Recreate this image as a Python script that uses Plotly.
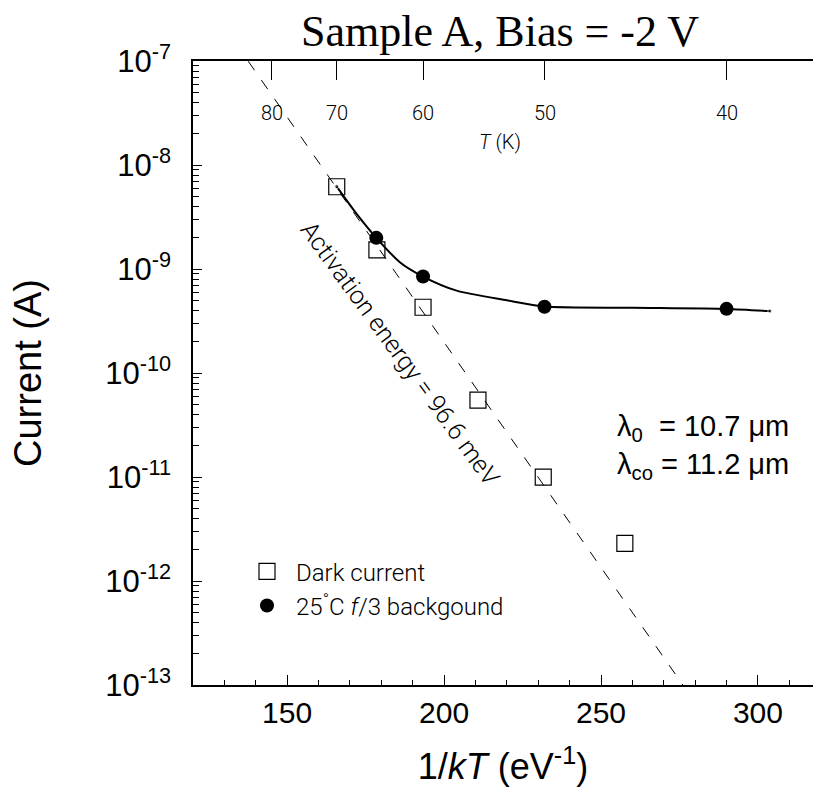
import plotly.graph_objects as go

# ---------------- data ----------------
# 1/kT in eV^-1, current in A
dark_x = [165.8, 178.6, 193.3, 210.8, 231.6, 257.6]
dark_y = [6.2e-9, 1.53e-9, 4.3e-10, 5.5e-11, 1.0e-11, 2.3e-12]

bg_x = [178.4, 193.3, 232.0, 290.0]
bg_y = [2.0e-9, 8.5e-10, 4.35e-10, 4.15e-10]

curve_x = [165.8, 172.2, 178.4, 186.0, 193.3, 204.0, 220.0, 232.0, 260.0, 290.0, 303.8]
curve_y = [6.22e-9, 3.38e-9, 2.0e-9, 1.16e-9, 8.49e-10, 6.21e-10, 5.01e-10,
           4.36e-10, 4.25e-10, 4.14e-10, 3.95e-10]

fit_x = [137.6, 276.1]
fit_y = [1e-7, 1e-13]

top_T = [80, 70, 60, 50, 40]          # K
k_B = 8.617e-5                        # eV/K
top_pos = [1.0 / (k_B * t) for t in top_T]
top_text = [str(t) for t in top_T]

y_exps = [-13, -12, -11, -10, -9, -8, -7]
y_tickvals = [10.0 ** e for e in y_exps]
y_ticktext = ["10<sup>%d</sup>" % e for e in y_exps]

x_range = [120, 317.55]
y_range_log = [-13.0001, -6.998]

SANS = "Liberation Sans, Arial, sans-serif"
THIN = "Roboto, sans-serif"

fig = go.Figure()

fig.add_trace(go.Scatter(
    x=fit_x, y=fit_y, mode="lines", showlegend=False,
    line=dict(color="black", width=1, dash="11px,12px"), hoverinfo="skip"))

end_dots = [4] + [0] * (len(curve_x) - 2) + [4]
fig.add_trace(go.Scatter(
    x=curve_x, y=curve_y, mode="lines+markers", showlegend=False,
    line=dict(color="black", width=2, shape="spline", smoothing=0.7),
    marker=dict(size=end_dots, color="black"), hoverinfo="skip"))

fig.add_trace(go.Scatter(
    x=dark_x, y=dark_y, mode="markers", name="Dark current",
    marker=dict(symbol="square-open", size=16, color="black", line=dict(width=1.2, color="black"))))

fig.add_trace(go.Scatter(
    x=bg_x, y=bg_y, mode="markers", name="25<sup>°</sup>C <i>f</i>/3 backgound",
    marker=dict(symbol="circle", size=14, color="black")))

# invisible trace on top axis so it is drawn
fig.add_trace(go.Scatter(x=[top_pos[0]], y=[1e-10], xaxis="x2", mode="markers",
                         marker=dict(opacity=0), showlegend=False, hoverinfo="skip"))

fig.update_layout(
    width=813, height=805,
    margin=dict(l=193, r=0, t=61, b=120),
    paper_bgcolor="white", plot_bgcolor="white",
    title=dict(text="Sample A, Bias = -2 V", xref="container", yref="container",
               x=500 / 813, y=1 - 31 / 805, xanchor="center", yanchor="middle",
               font=dict(family="Liberation Serif, Times New Roman, serif", size=44, color="black")),
    xaxis=dict(range=x_range, showgrid=False, zeroline=False, showline=True,
               linecolor="black", linewidth=1.5, ticks="inside", ticklen=10, tickwidth=1,
               tickcolor="black", dtick=50, tick0=0,
               tickfont=dict(family=SANS, size=30, color="black"),
               minor=dict(dtick=10, tick0=0, ticks="inside", ticklen=5, tickwidth=1, tickcolor="black"),
               title=dict(text="1/<i>kT</i> (eV<sup>-1</sup>)", font=dict(family=SANS, size=36, color="black"),
                          standoff=26)),
    xaxis2=dict(range=x_range, overlaying="x", side="top", showgrid=False, zeroline=False,
                showline=True, linecolor="black", linewidth=1.5, ticks="inside", ticklen=19,
                tickwidth=1, tickcolor="black", tickvals=top_pos, ticktext=top_text,
                showticklabels=False),
    yaxis=dict(type="log", range=y_range_log, showgrid=False, zeroline=False, showline=True,
               linecolor="black", linewidth=1.5, ticks="inside", ticklen=9, tickwidth=1,
               tickcolor="black", tickvals=y_tickvals, ticktext=y_ticktext, ticklabelstandoff=14,
               tickfont=dict(family=SANS, size=31, color="black"),
               minor=dict(ticks="inside", ticklen=6, tickwidth=1, tickcolor="black", dtick="D1"),
               title=dict(text="Current (A)", font=dict(family=SANS, size=38, color="black"),
                          standoff=52)),
    legend=dict(x=(238 - 193) / 620, y=(685 - 549) / 625, xanchor="left", yanchor="top",
                bgcolor="rgba(0,0,0,0)", itemwidth=48,
                font=dict(family=THIN, size=24, color="black", weight=300)),
    showlegend=True,
)

# temperature labels of the top axis (placed at the top-axis tick positions)
for pos, lab in zip(top_pos, top_text):
    fig.add_annotation(x=pos, y=(685 - 98) / 625, xref="x2", yref="paper",
                       text=lab, showarrow=False,
                       font=dict(family=THIN, size=20, color="black", weight=300))

fig.add_annotation(x=217.8, y=(685 - 127) / 625, xref="x", yref="paper",
                   text="<i>T</i> (K)", showarrow=False,
                   font=dict(family=THIN, size=20, color="black", weight=300))

fig.add_annotation(x=186.0, y=-9.81, xref="x", yref="y", textangle=54,
                   text="Activation energy = 96.6 meV", showarrow=False,
                   font=dict(family=THIN, size=25, color="black", weight=300))

fig.add_annotation(x=254.5, y=-10.53, xref="x", yref="y", xanchor="left",
                   text="λ<sub>0</sub>\u00a0\u00a0= 10.7 μm", showarrow=False,
                   font=dict(family=SANS, size=29, color="black"))
fig.add_annotation(x=254.5, y=-10.89, xref="x", yref="y", xanchor="left",
                   text="λ<sub>co</sub> = 11.2 μm", showarrow=False,
                   font=dict(family=SANS, size=29, color="black"))

fig.write_html("out.html")
